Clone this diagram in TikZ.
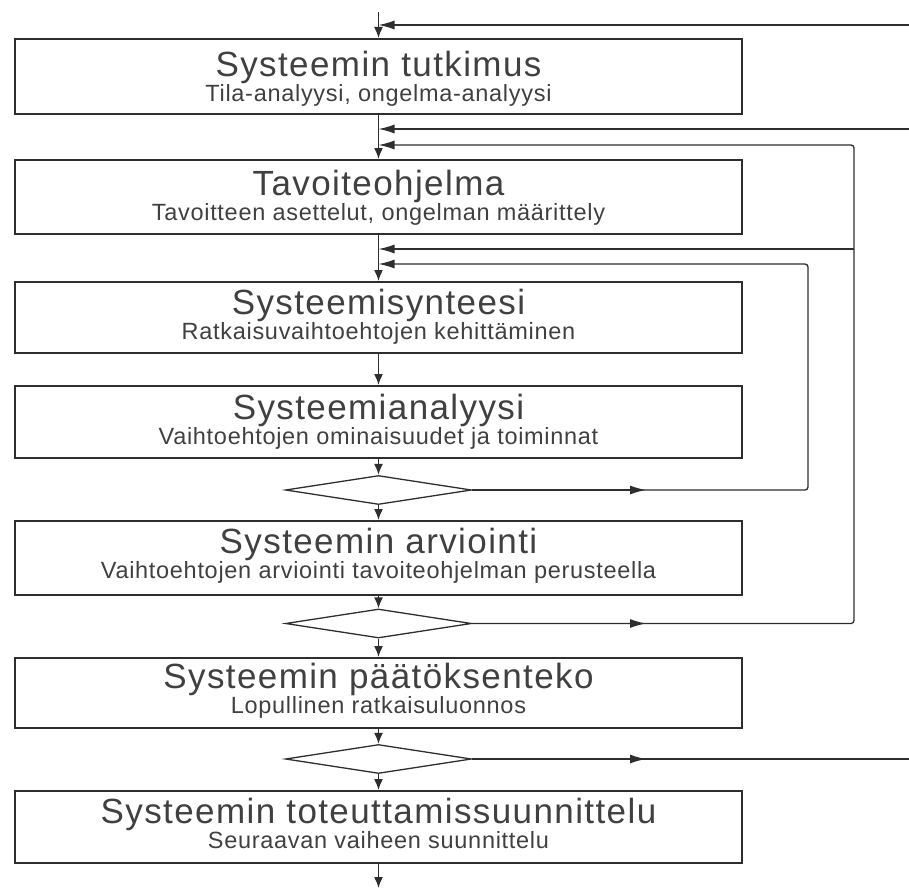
\documentclass[tikz,border=0pt]{standalone}
\usepackage{fontspec}
\setmainfont{Liberation Sans}
\usetikzlibrary{arrows.meta,shapes.geometric}
\definecolor{inkline}{HTML}{2E2E2E}
\definecolor{inktext}{HTML}{404040}

\begin{document}
\begin{tikzpicture}[x=1pt,y=-1pt,
  stagebox/.style={draw=inkline, line width=2.2pt, minimum width=727pt,
    inner sep=0pt, anchor=north},
  decision/.style={draw=inkline, line width=1.3pt, diamond, aspect=6,
    minimum width=186pt, minimum height=29pt, inner sep=0pt},
  title/.style={text=inktext, font=\addfontfeatures{LetterSpace=4}\fontsize{35}{38}\selectfont,
    anchor=base, inner sep=0pt},
  subtitle/.style={text=inktext, font=\addfontfeatures{LetterSpace=3}\fontsize{23.5}{26}\selectfont,
    anchor=base, inner sep=0pt},
  flow/.style={draw=inkline, line width=1.5pt, -{Latex[length=11pt,width=9pt]}},
  feed/.style={draw=inkline, line width=1.3pt, -{Latex[length=16pt,width=9pt]}},
  plain/.style={draw=inkline, line width=1.3pt},
]
\useasboundingbox (0,0) rectangle (909,888);

% stage boxes
\node[stagebox, minimum height=75pt] (b1) at (378.5,38) {};
\node[title]    (t1) at (378.5,76.5)  {Systeemin tutkimus};
\node[subtitle] (s1) at (378.5,101.5) {Tila-analyysi, ongelma-analyysi};

\node[stagebox, minimum height=74pt] (b2) at (378.5,159) {};
\node[title]    (t2) at (378.5,195.5) {Tavoiteohjelma};
\node[subtitle] (s2) at (378.5,220.5) {Tavoitteen asettelut, ongelman määrittely};

\node[stagebox, minimum height=71pt] (b3) at (378.5,281) {};
\node[title]    (t3) at (378.5,314.5) {Systeemisynteesi};
\node[subtitle] (s3) at (378.5,339.5) {Ratkaisuvaihtoehtojen kehittäminen};

\node[stagebox, minimum height=72pt] (b4) at (378.5,385) {};
\node[title]    (t4) at (378.5,419) {Systeemianalyysi};
\node[subtitle] (s4) at (378.5,444) {Vaihtoehtojen ominaisuudet ja toiminnat};

\node[stagebox, minimum height=74pt] (b5) at (378.5,520) {};
\node[title]    (t5) at (378.5,553) {Systeemin arviointi};
\node[subtitle] (s5) at (378.5,578) {Vaihtoehtojen arviointi tavoiteohjelman perusteella};

\node[stagebox, minimum height=70pt] (b6) at (378.5,657) {};
\node[title]    (t6) at (378.5,688.5) {Systeemin päätöksenteko};
\node[subtitle] (s6) at (378.5,713.5) {Lopullinen ratkaisuluonnos};

\node[stagebox, minimum height=72pt] (b7) at (378.5,790) {};
\node[title]    (t7) at (378.5,823.5) {Systeemin toteuttamissuunnittelu};
\node[subtitle] (s7) at (378.5,848.5) {Seuraavan vaiheen suunnittelu};

% decisions
\node[decision] (d1) at (378.5,490) {};
\node[decision] (d2) at (378.5,623.5) {};
\node[decision] (d3) at (378.5,759) {};

% fixed points of the connectors
\coordinate (top) at (378.5,12);
\coordinate (bot) at (378.5,888);
\coordinate (in1) at (909,25);
\coordinate (in2) at (909,129);
\coordinate (out3) at (909,759);
\coordinate (o1) at (854,145);
\coordinate (o2) at (854,249);
\coordinate (o3) at (854,623.5);
\coordinate (i1) at (808,264);
\coordinate (i2) at (808,490);
\coordinate (m1) at (646,490);
\coordinate (m2) at (646,623.5);
\coordinate (m3) at (646,759);

% main line
\draw[flow] (top) -- (b1.north);
\draw[flow] (b1.south) -- (b2.north);
\draw[flow] (b2.south) -- (b3.north);
\draw[flow] (b3.south) -- (b4.north);
\draw[flow] (b4.south) -- (d1.north);
\draw[flow] (d1.south) -- (b5.north);
\draw[flow] (b5.south) -- (d2.north);
\draw[flow] (d2.south) -- (b6.north);
\draw[flow] (b6.south) -- (d3.north);
\draw[flow] (d3.south) -- (b7.north);
\draw[flow] (b7.south) -- (bot);

% incoming lines from the right
\draw[feed] (in1) -- (in1 -| top);
\draw[feed] (in2) -- (in2 -| top);

% return loop from the analysis decision, with a direction mark on its way out
\draw[feed, rounded corners=3pt] (d1.east) -- (i2) -- (i1) -- (i1 -| top);
\draw[feed] (d1.east) -- (m1);

% return loop from the evaluation decision
\draw[feed, rounded corners=3pt] (d2.east) -- (o3) -- (o1) -- (o1 -| top);
\draw[feed] (d2.east) -- (m2);
\draw[feed] (o2) -- (o2 -| top);

% exit from the decision-making stage
\draw[plain] (d3.east) -- (out3);
\draw[feed] (d3.east) -- (m3);
\end{tikzpicture}
\end{document}
